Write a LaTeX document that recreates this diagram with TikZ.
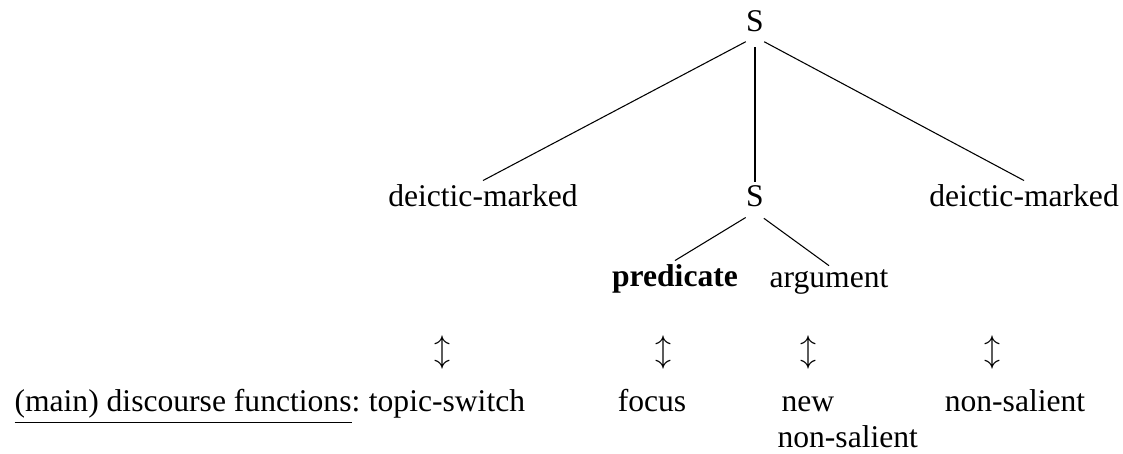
\documentclass[tikz,border=0pt]{standalone}
\usepackage{fontspec}
\setmainfont{Liberation Serif}
\usepackage{tikz}
\tikzset{
  treeline/.style={draw=black,line width=0.4pt},
  headline/.style={draw=black,line width=1.0pt},
  word/.style={inner sep=1.5pt,font=\fontsize{11.85}{14}\selectfont,anchor=base},
  bidir/.style={inner sep=0pt,font=\fontsize{11.85}{14}\selectfont}
}
\begin{document}
\begin{tikzpicture}[x=0.375pt,y=-0.375pt]
  \useasboundingbox (0,0) rectangle (1123,454);
  % tree
  \node[word] (STOP) at (755,32)  {S};
  \node[word] (DML)  at (483,207) {deictic-marked};
  \node[word] (SMID) at (755,207) {S};
  \node[word] (DMR)  at (1024,207) {deictic-marked};
  \node[word] (PRED) at (675,287) {\textbf{predicate}};
  \node[word] (ARG)  at (829,288) {argument};
  \draw (STOP.south) -- (DML.north) [treeline,shorten <=3.9pt];
  \draw (STOP.south) -- (SMID.north) [headline,shorten <=3.9pt];
  \draw (STOP.south) -- (DMR.north) [treeline,shorten <=3.9pt];
  \draw (SMID.south) -- (PRED.north) [treeline,shorten <=4.1pt];
  \draw (SMID.south) -- (ARG.north) [treeline,shorten <=4.1pt];
  % discourse functions
  \node[bidir] (UD1) at (442,353) {$\updownarrow$};
  \node[bidir] (UD2) at (663,353) {$\updownarrow$};
  \node[bidir] (UD3) at (808,353) {$\updownarrow$};
  \node[bidir] (UD4) at (992,353) {$\updownarrow$};
  \node[word,anchor=base west] (DF) at (10,412) {\underline{(main) discourse functions}:};
  \node[word] (TSW) at (447,412) {topic-switch};
  \node[word] (FOC) at (652,412) {focus};
  \node[word,anchor=base west] (NEW) at (777,412) {new};
  \node[word,anchor=base west] (NSA) at (773,448) {non-salient};
  \node[word] (NSB) at (1015,412) {non-salient};
\end{tikzpicture}
\end{document}
